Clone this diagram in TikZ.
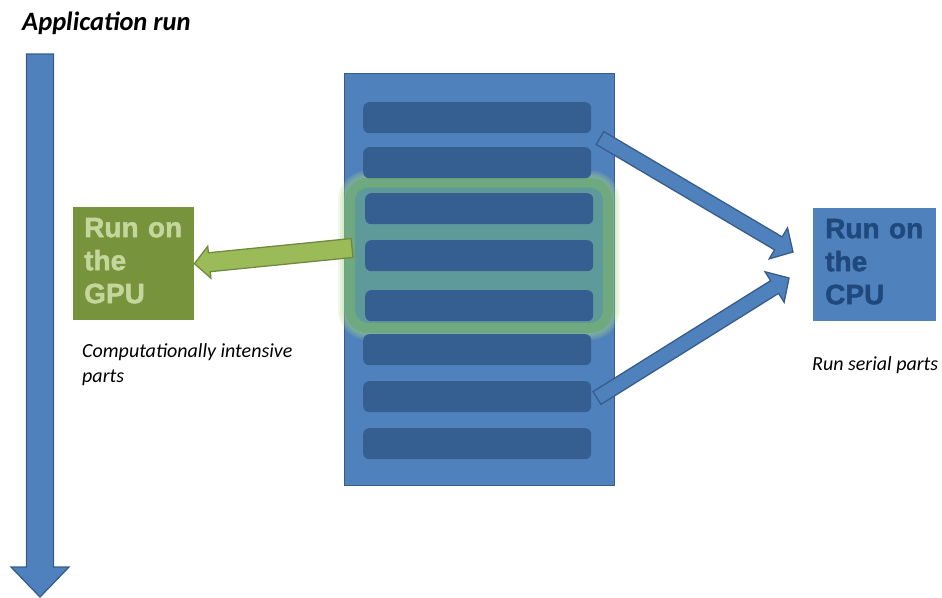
\documentclass[tikz,border=0pt]{standalone}
\usepackage{fontspec}
\setmainfont{Carlito}
\newfontfamily\arialfont{Liberation Sans}[BoldFeatures={FakeBold=1.6}]
\usetikzlibrary{calc,positioning}
\definecolor{officeblue}{HTML}{4F81BD}
\definecolor{officeedge}{HTML}{385D8A}
\definecolor{barblue}{HTML}{365F91}
\definecolor{gpugreen}{HTML}{77933C}
\definecolor{gpulight}{HTML}{C3D69B}
\definecolor{arrowgreen}{HTML}{9BBB59}
\definecolor{arrowgreenedge}{HTML}{71893F}
\definecolor{cputext}{HTML}{1F497D}
\definecolor{glowring}{HTML}{6FA97F}
\definecolor{glowteal}{HTML}{5F9A9A}
\definecolor{glowsoft}{HTML}{A8D48A}
\tikzset{
  rack/.style={draw=officeedge,fill=officeblue,line width=1.2pt,inner sep=0pt},
  bar/.style={fill=barblue,rounded corners=6pt,minimum height=31pt,inner sep=0pt},
  unitbox/.style={inner ysep=0pt,text width=99pt,minimum height=113pt,align=left,
    font=\arialfont\bfseries\fontsize{28}{33}\selectfont},
  note/.style={font=\itshape\fontsize{20}{25}\selectfont,inner sep=0pt,align=left},
  bluearrow/.style={fill=officeblue,draw=officeedge,line width=1.3pt},
  greenarrow/.style={fill=arrowgreen,draw=arrowgreenedge,line width=1.3pt},
}
% block arrow: [style]{tail}{tip}{shaft half width}{head half width}{head length}
\newcommand{\blockarrow}[6][]{%
  \coordinate (neck) at ($(#3)!#6!(#2)$);
  \draw[#1] ($(#2)!#4!90:(#3)$) -- ($(neck)!#4!90:(#3)$) -- ($(neck)!#5!90:(#3)$) -- (#3)
    -- ($(neck)!#5!-90:(#3)$) -- ($(neck)!#4!-90:(#3)$) -- ($(#2)!#4!-90:(#3)$) -- cycle;
}

\begin{document}
\begin{tikzpicture}[x=1pt,y=1pt]
  \useasboundingbox (0,0) rectangle (942,-597);

  \node[font=\bfseries\itshape\fontsize{26.5}{30}\selectfont,anchor=base west,inner sep=0pt]
    (title) at (22,-30) {Application run};
  \coordinate (runtop) at (40,-54);
  \coordinate (runend) at (40,-597);
  \blockarrow[bluearrow]{runtop}{runend}{13.5pt}{29pt}{30pt}

  % the program
  \node[rack,minimum width=270pt,minimum height=412pt,anchor=north west] (rack) at (344,-73) {};
  \foreach \w in {24,20,16,12}
    \draw[glowsoft,line width=\w pt,opacity=.18,rounded corners=18pt] (350,-182.5) rectangle (608,-328);
  \draw[draw=glowring,fill=glowteal,line width=10pt,rounded corners=18pt] (350,-182.5) rectangle (608,-328);
  \foreach \n/\x/\t in {1/363/102,2/363/147,3/365/193,4/365/240,5/365/290,6/363/334,7/363/381,8/363/428}
    \node[bar,minimum width=228pt,anchor=north west] (bar\n) at (\x,-\t) {};

  % GPU side
  \node[unitbox,fill=gpugreen,text=gpulight,inner xsep=11pt,anchor=north west] (gpu) at (73,-207)
    {Run on\\the\\GPU\par\vspace{6pt}};
  \node[note,anchor=north west] (gpunote) at (82,-343) {Computationally intensive\\parts};
  \coordinate (gputail) at (352,-248);
  \blockarrow[greenarrow]{gputail}{gpu.east}{9.5pt}{16pt}{15pt}

  % CPU side
  \node[unitbox,fill=officeblue,text=cputext,inner xsep=12pt,anchor=north west] (cpu) at (813,-208)
    {Run on\\the\\CPU\par\vspace{6pt}};
  \node[note,anchor=north west] (cpunote) at (812,-356) {Run serial parts};
  \coordinate (cputail1) at (600,-138);
  \coordinate (cputip1) at (793,-252);
  \coordinate (cputail2) at (597,-398);
  \coordinate (cputip2) at (789,-278);
  \blockarrow[bluearrow]{cputail1}{cputip1}{7.5pt}{18pt}{17pt}
  \blockarrow[bluearrow]{cputail2}{cputip2}{7.5pt}{18pt}{17pt}
\end{tikzpicture}
\end{document}
